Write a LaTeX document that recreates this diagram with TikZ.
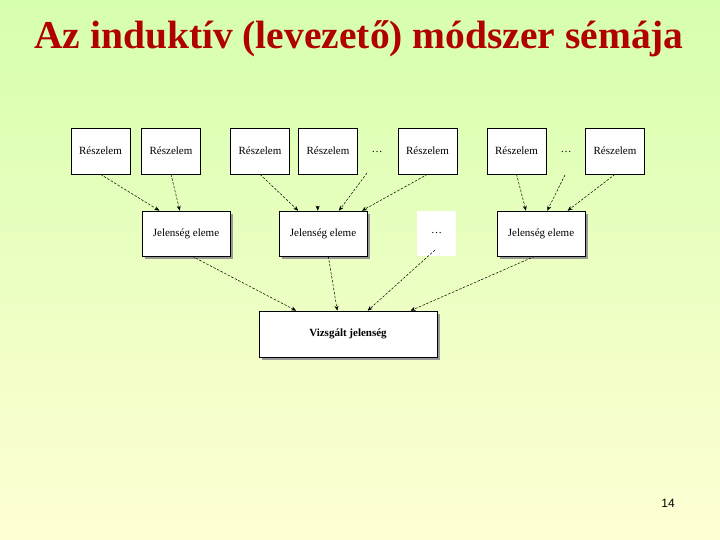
\documentclass[tikz,border=0pt]{standalone}
\usepackage{fontspec}
\setmainfont{Liberation Serif}
\newfontfamily\pagenumfont{Liberation Sans}
\usetikzlibrary{shadows,arrows.meta,calc}
\definecolor{bgtop}{RGB}{214,255,174}
\definecolor{bgbot}{RGB}{255,255,212}
\definecolor{titlered}{RGB}{176,0,0}
\begin{document}
\begin{tikzpicture}[x=1pt,y=-1pt,
  box/.style={draw=black, line width=0.6pt, fill=white, inner sep=0pt, font=\fontsize{11}{13}\selectfont},
  rbox/.style={box, minimum width=59pt, minimum height=46pt},
  shad/.style={drop shadow={shadow xshift=3pt, shadow yshift=-3pt, fill=black!40, opacity=1}},
  jbox/.style={box, shad, minimum width=88pt, minimum height=45pt},
  dots/.style={inner sep=0pt, font=\fontsize{11}{13}\selectfont},
  conn/.style={dash pattern=on 2.5pt off 1.5pt, line width=0.5pt, -{Stealth[length=5pt,width=4pt]}},
]
\useasboundingbox (0,0) rectangle (720,540);
\shade[top color=bgtop, bottom color=bgbot] (0,0) rectangle (720,540);

\node[font=\fontsize{39.5}{44}\selectfont\bfseries, text=titlered, anchor=base] (title) at (359,49) {Az induktív (levezető) módszer sémája};

% top row
\node[rbox] (R1) at (100.5,151) {Részelem};
\node[rbox] (R2) at (171,151) {Részelem};
\node[rbox] (R3) at (260,151) {Részelem};
\node[rbox] (R4) at (328,151) {Részelem};
\node[dots] (d1) at (377,152) {\dots};
\node[rbox] (R5) at (427.5,151) {Részelem};
\node[rbox] (R6) at (516.5,151) {Részelem};
\node[dots] (d2) at (566,152) {\dots};
\node[rbox] (R7) at (615,151) {Részelem};

% middle row
\node[jbox] (J1) at (186,233.5) {Jelenség eleme};
\node[jbox] (J2) at (323,233.5) {Jelenség eleme};
\node[fill=white, minimum width=39pt, minimum height=45pt, inner sep=0pt, font=\fontsize{11}{13}\selectfont] (Jd) at (436.5,233.5) {\dots};
\node[jbox] (J3) at (541,233.5) {Jelenség eleme};

% bottom
\node[box, shad, minimum width=178pt, minimum height=46pt, font=\fontsize{11}{13}\selectfont\bfseries] (V) at (348,334) {Vizsgált jelenség};

% page number
\node[font=\pagenumfont\fontsize{12}{14}\selectfont] (pg) at (668,503) {14};

% connectors top -> middle
\draw[conn] (R1.south) -- ($(J1.north west)!0.2!(J1.north east)$);
\draw[conn] (R2.south) -- ($(J1.north west)!0.43!(J1.north east)$);
\draw[conn] (R3.south) -- ($(J2.north west)!0.22!(J2.north east)$);
\coordinate (r4end) at ($(J2.north west)!0.44!(J2.north east)+(0,-5)$);
\draw[conn] (r4end) -- ($(J2.north west)!0.44!(J2.north east)$);
\draw[conn] ($(d1)+(-10,21)$) -- ($(J2.north west)!0.68!(J2.north east)$);
\draw[conn] (R5.south) -- ($(J2.north west)!0.94!(J2.north east)$);
\draw[conn] (R6.south) -- ($(J3.north west)!0.33!(J3.north east)$);
\draw[conn] ($(d2)+(-1,23)$) -- ($(J3.north west)!0.57!(J3.north east)$);
\draw[conn] (R7.south) -- ($(J3.north west)!0.8!(J3.north east)$);

% connectors middle -> bottom
\draw[conn] ($(J1.south west)!0.57!(J1.south east)$) -- ($(V.north west)!0.21!(V.north east)$);
\draw[conn] ($(J2.south west)!0.56!(J2.south east)$) -- ($(V.north west)!0.44!(V.north east)$);
\draw[conn] ($(Jd)+(-1.5,16.5)$) -- ($(V.north west)!0.61!(V.north east)$);
\draw[conn] ($(J3.south west)!0.43!(J3.south east)$) -- ($(V.north west)!0.85!(V.north east)$);
\end{tikzpicture}
\end{document}
